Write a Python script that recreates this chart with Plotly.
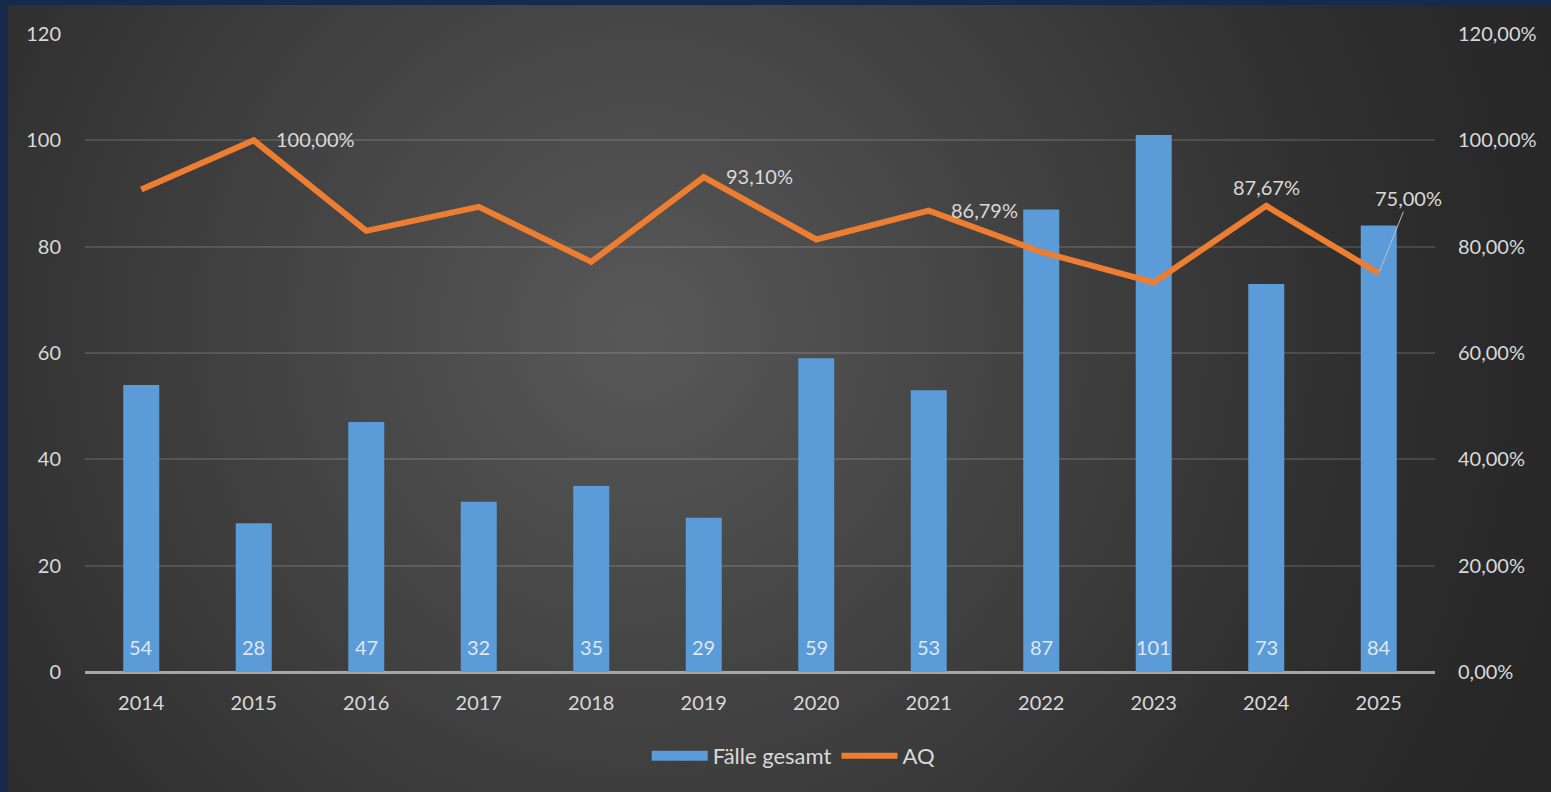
import base64
import plotly.graph_objects as go

years = ["2014", "2015", "2016", "2017", "2018", "2019", "2020", "2021", "2022", "2023", "2024", "2025"]
faelle = [54, 28, 47, 32, 35, 29, 59, 53, 87, 101, 73, 84]
aq = [0.9074, 1.0, 0.8298, 0.875, 0.7714, 0.9310, 0.8136, 0.8679, 0.790, 0.7327, 0.8767, 0.75]
aq_labeled = ["2015", "2019", "2021", "2024", "2025"]

W, H = 1551, 792
L, R, T, B = 85, 116, 34, 120
pw, ph = W - L - R, H - T - B
navy = "#172a4e"
IX, IY = 8, 5          # navy frame on the left and top
IW, IH = W - IX, H - IY

svg = f"""<svg xmlns='http://www.w3.org/2000/svg' width='{IW}' height='{IH}' viewBox='0 0 {IW} {IH}' preserveAspectRatio='none'>
<defs><radialGradient id='g' gradientUnits='userSpaceOnUse' cx='632' cy='325' r='980'>
<stop offset='0' stop-color='#585858'/><stop offset='0.75' stop-color='#2e2e2e'/><stop offset='1' stop-color='#262626'/></radialGradient></defs>
<rect x='0' y='0' width='{IW}' height='{IH}' fill='url(#g)'/></svg>"""
src = "data:image/svg+xml;base64," + base64.b64encode(svg.encode()).decode()

txt = "#d9d9d9"
font = "Lato"
fs = 20

fig = go.Figure()
fig.add_trace(go.Bar(
    x=years, y=faelle, name="Fälle gesamt", showlegend=False,
    marker=dict(color="#5b9bd8", line=dict(width=0)),
    width=0.32, yaxis="y",
))
# legend entry for the bars (wide rectangle like the original)
fig.add_trace(go.Scatter(
    x=[None], y=[None], name="Fälle gesamt", mode="lines",
    line=dict(color="#5b9bd8", width=14), yaxis="y",
))
fig.add_trace(go.Scatter(
    x=years, y=aq, name="AQ", mode="lines",
    line=dict(color="#ed7d31", width=6), yaxis="y2",
))

ann = []
for i, v in enumerate(faelle):
    ann.append(dict(x=i, y=0, xref="x", yref="y", text=str(v), showarrow=False,
                    yanchor="middle", yshift=25, font=dict(size=fs, color="#dde8f4", family=font)))
for i, (yr, v) in enumerate(zip(years, aq)):
    if yr not in aq_labeled:
        continue
    label = f"{v*100:.2f}%".replace(".", ",")
    if yr == "2024":
        ann.append(dict(x=i, y=v, xref="x", yref="y2", text=label, showarrow=False,
                        yanchor="bottom", yshift=5, font=dict(size=fs, color=txt, family=font)))
    elif yr == "2025":
        ann.append(dict(x=i, y=v, xref="x", yref="y2", text=label, showarrow=True,
                        arrowhead=0, arrowwidth=1, arrowcolor="#bfbfbf", ax=30, ay=-75,
                        standoff=2, font=dict(size=fs, color=txt, family=font)))
    else:
        ann.append(dict(x=i, y=v, xref="x", yref="y2", text=label, showarrow=False,
                        xanchor="left", xshift=20, yanchor="middle", yshift=1,
                        font=dict(size=fs, color=txt, family=font)))

fig.update_layout(
    width=W, height=H,
    margin=dict(l=L, r=R, t=T, b=B),
    paper_bgcolor=navy,
    plot_bgcolor="rgba(0,0,0,0)",
    separators=",.",
    font=dict(family=font, size=fs, color=txt),
    images=[dict(source=src, xref="paper", yref="paper",
                 x=(IX - L) / pw, y=1 + (T - IY) / ph,
                 sizex=IW / pw, sizey=IH / ph,
                 xanchor="left", yanchor="top", sizing="stretch", layer="below")],
    xaxis=dict(type="category", range=[-0.5, len(years) - 0.5], autorange=False,
               showgrid=False, showline=False, zeroline=False,
               ticks="outside", ticklen=13, tickcolor="rgba(0,0,0,0)",
               tickfont=dict(size=fs, color=txt, family=font)),
    yaxis=dict(range=[0, 120], autorange=False, dtick=20, showgrid=True,
               gridcolor="rgba(255,255,255,0.13)",
               gridwidth=1.5, zeroline=True, zerolinecolor="#a6a6a6", zerolinewidth=2.5,
               showline=False, ticks="outside", ticklen=19, tickcolor="rgba(0,0,0,0)",
               tickfont=dict(size=fs, color=txt, family=font)),
    yaxis2=dict(range=[0, 1.2], autorange=False, dtick=0.2, tickformat=".2%",
                overlaying="y", side="right",
                showgrid=False, zeroline=False, showline=False,
                ticks="outside", ticklen=18, tickcolor="rgba(0,0,0,0)",
                tickfont=dict(size=fs, color=txt, family=font)),
    legend=dict(orientation="h", x=0.525, xanchor="center", y=-0.1317, yanchor="middle",
                font=dict(size=22, color=txt, family=font), bgcolor="rgba(0,0,0,0)",
                itemwidth=56, tracegroupgap=0),
    annotations=ann,
    showlegend=True,
)

fig.write_html("out.html",
               config={"displayModeBar": False},
               post_script=("document.body.style.margin='0';"
                            "document.body.style.overflow='hidden';"
                            f"document.body.style.background='{navy}';"
                            f"document.documentElement.style.background='{navy}';"))
